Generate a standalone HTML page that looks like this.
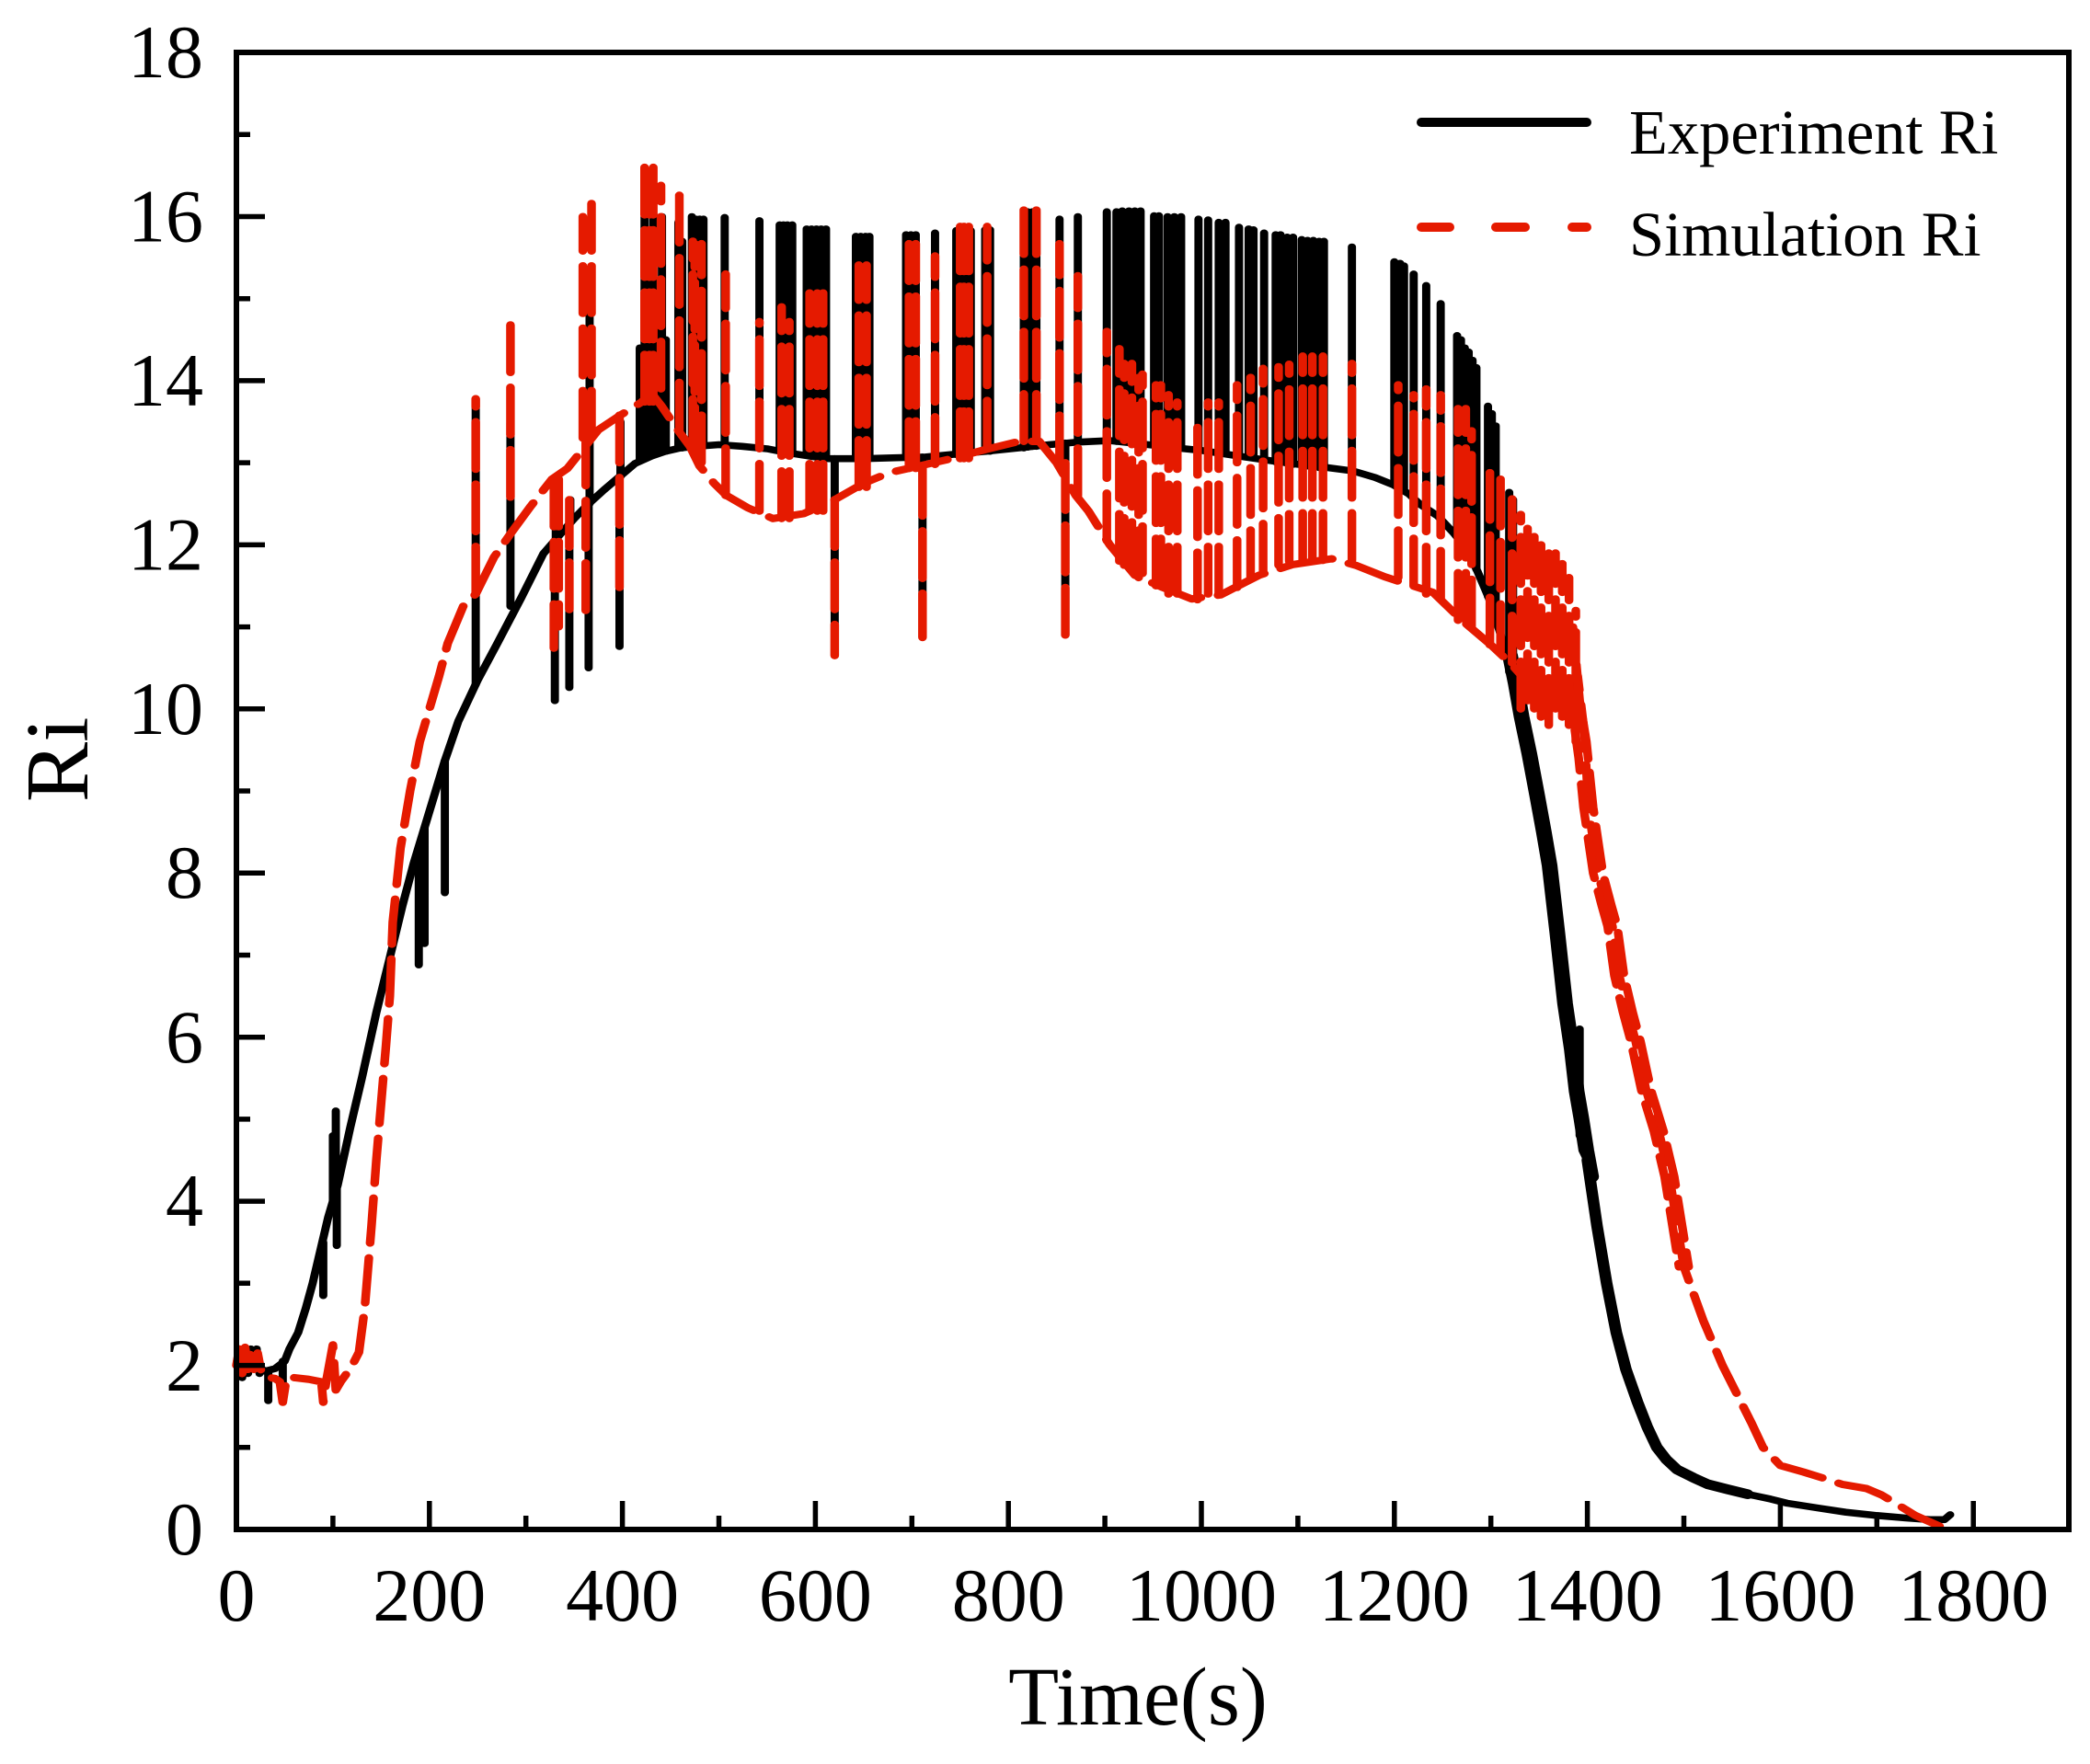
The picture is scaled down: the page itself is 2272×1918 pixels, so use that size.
<!DOCTYPE html>
<html>
<head>
<meta charset="utf-8">
<style>
html,body{margin:0;padding:0;background:#fff;}
svg{display:block;}
text{font-family:"Liberation Serif","Times New Roman",serif;fill:#000;}
</style>
</head>
<body>
<svg width="2272" height="1918" viewBox="0 0 2272 1918" xmlns="http://www.w3.org/2000/svg">
<rect x="0" y="0" width="2272" height="1918" fill="#fff"/>

<!-- DATA (x = time s, y = Ri*100) -->
<g transform="translate(257,1663) scale(1.049,-0.8922)" fill="none" stroke-linecap="round" stroke-linejoin="round">
  <!-- Experiment baseline -->
  <path stroke="#000" stroke-width="8.5" d="M0,200 L3,220 6,185 9,220 12,190 15,220 18,200 21,220 24,190 27,195 30,193 40,196 50,205 55,220 64,240 72,270 79,300 87,340 95,380 105,420 118,490 130,550 145,630 159,697 172,760 184,813 200,875 216,937 230,985 250,1035 270,1079 295,1135 318,1189 335,1212 350,1232 365,1250 381,1267 397,1283 413,1299 430,1308 445,1314 460,1318 477,1320 500,1322 524,1320 550,1317 572,1312 600,1307 613,1305 651,1305 680,1306 714,1307 750,1311 778,1314 810,1318 842,1322 870,1325 905,1327 945,1322 975,1318 1000,1315 1045,1307 1075,1302 1100,1298 1131,1294 1157,1290 1180,1282 1199,1273 1215,1262 1227,1249 1245,1235 1261,1215 1275,1195 1286,1168 1298,1135 1309,1095 1316,1065 1322,1030 1328,990 1336,945 1344,895 1351,850 1357,809 1365,727 1373,641 1380,585 1385,534 1390,500 1395,462 1400,450 1405,410 1410,370 1415,335 1420,300 1430,240 1440,195 1452,155 1462,125 1472,100 1482,85 1493,73 1510,63 1525,55 1545,49 1566,43 1590,37 1607,32 1640,26 1668,21 1700,17 1730,14 1755,12 1770,12 1776,18"/>
  <path stroke="#000" stroke-width="14" d="M1321,1065 L1327,1030 1333,990 1341,945 1349,895 1356,850 1362,809 1370,727 1378,641 1385,585 1390,534 1395,500 1400,462 1405,430"/>
  <path stroke="#000" stroke-width="12" d="M1400,450 L1410,370 1420,300 1430,240 1440,195 1452,155 1462,125 1472,100 1482,85 1493,73 1510,63 1525,55 1545,49 1566,43"/>
  <!-- Experiment spikes -->
  <path stroke="#000" stroke-width="8.5" d="M33,193V157 M48,205V155 M90,350V285 M100,400V480 M103,415V510 M104,415V346 M189,830V688 M195,855V714 M216,937V776 M248,1030V1378 M284,1125V1348 M330,1200V1010 M331,1200V1280 M345,1230V1026 M346,1230V1255 M365,1250V1050 M366,1250V1530 M397,1283V1076 M398,1283V1350 M418,1302V1440 M423,1306V1600 M428,1308V1560 M432,1310V1600 M437,1312V1500 M441,1313V1600 M445,1314V1450 M458,1318V1593 M462,1318V1570 M472,1320V1600 M476,1320V1597 M480,1320V1597 M484,1320V1597 M506,1321V1599 M542,1318V1595 M563,1314V1590 M567,1313V1590 M571,1312V1590 M576,1311V1590 M591,1309V1585 M596,1308V1585 M601,1307V1585 M606,1306V1585 M611,1305V1585 M620,1305V1065 M642,1305V1576 M647,1305V1576 M652,1305V1576 M656,1305V1576 M694,1306V1578 M699,1306V1578 M704,1307V1578 M711,1307V1087 M724,1308V1580 M746,1310V1583 M751,1311V1583 M756,1312V1583 M761,1312V1583 M776,1314V1584 M781,1314V1584 M816,1318V1606 M820,1319V1606 M825,1320V1606 M829,1320V1606 M853,1323V1597 M859,1324V1090 M872,1325V1600 M902,1327V1606 M912,1326V1606 M918,1326V1607 M925,1325V1607 M931,1325V1607 M937,1324V1607 M951,1322V1601 M956,1321V1601 M965,1320V1600 M972,1319V1600 M979,1318V1600 M997,1316V1597 M1007,1315V1596 M1018,1313V1593 M1025,1311V1593 M1039,1309V1587 M1049,1307V1585 M1054,1306V1584 M1065,1304V1580 M1077,1301V1578 M1082,1300V1578 M1089,1299V1575 M1095,1298V1575 M1104,1297V1572 M1110,1296V1571 M1116,1295V1571 M1122,1294V1570 M1127,1294V1570 M1156,1290V1563 M1200,1273V1545 M1206,1270V1543 M1210,1266V1540 M1220,1258V1530 M1233,1246V1516 M1248,1232V1494 M1265,1210V1455 M1269,1203V1450 M1273,1197V1440 M1277,1190V1435 M1281,1182V1425 M1285,1170V1416 M1297,1137V1369 M1301,1125V1360 M1305,1110V1345 M1319,1045V1264 M1323,1025V1255 M1392,480V610"/>

  <!-- Simulation baseline (dashed) -->
  <path stroke="#e51a00" stroke-width="9" stroke-dasharray="55 18" d="M0,200 L3,220 6,190 9,222 12,195 15,220 18,195 22,215 26,190 30,185 35,185 40,184 45,180 48,155 52,185 60,185 75,183 88,180 90,155 93,180 100,225 103,170 108,180 113,188 120,200 127,216 133,270 140,370 145,450 150,520 155,590 159,650 162,740 170,830 180,900 190,960 200,1000 210,1040 219,1080 235,1125 248,1140 267,1185 285,1215 305,1247 327,1280 343,1293 360,1318 375,1340 398,1358 420,1374 430,1385 440,1370 458,1339 470,1320 480,1296 495,1275 508,1260 530,1245 556,1232 588,1238 620,1255 650,1275 677,1288 700,1294 741,1305 776,1316 811,1326 832,1326 850,1300 870,1260 883,1241 905,1200 931,1163 960,1148 990,1134 1020,1139 1060,1163 1095,1176 1135,1183 1160,1175 1190,1161 1240,1142 1270,1108 1300,1078 1320,1056 1340,1030 1360,1010 1380,1005 1390,1040 1397,970 1401,880 1411,800 1420,760 1426,735 1433,675 1442,630 1450,595 1461,535 1474,485 1485,430 1500,320 1520,255 1540,200 1555,165 1570,130 1582,100 1600,78 1624,70 1646,62 1664,55 1689,50 1705,42 1722,30 1740,17 1765,4"/>
  <path stroke="#e51a00" stroke-width="9" stroke-dasharray="50 16" stroke-dashoffset="20" d="M1385,1100 L1392,1010 1399,960 1406,880 1416,800 1425,760 1431,735 1438,675 1447,630 1455,595 1466,535 1479,485 1490,430 1505,320"/>
  <path stroke="#e51a00" stroke-width="9" stroke-dasharray="50 16" stroke-dashoffset="40" d="M1384,1000 L1391,940 1396,880 1406,800 1415,760 1421,735 1428,675 1437,630 1445,595 1456,535 1469,485 1480,430 1495,320"/>
  <!-- Simulation spikes (dashed) -->
  <path stroke="#e51a00" stroke-width="9" stroke-dasharray="58 18" d="M248,1140V1378 M284,1258V1472 M329,1280V1074 M334,1280V1100 M345,1255V1110 M359,1330V1600 M362,1330V1120 M368,1330V1616 M397,1358V1145 M423,1374V1663 M428,1374V1650 M432,1374V1663 M440,1390V1638 M459,1340V1627 M473,1320V1570 M475,1310V1567 M482,1300V1567 M507,1260V1530 M542,1241V1472 M565,1232V1490 M573,1232V1472 M594,1241V1507 M602,1241V1507 M608,1241V1507 M620,1255V1065 M645,1270V1541 M653,1270V1541 M697,1293V1567 M704,1293V1567 M711,1293V1087 M724,1298V1552 M750,1305V1588 M754,1305V1588 M759,1305V1588 M778,1318V1588 M816,1326V1608 M829,1326V1608 M853,1300V1567 M859,1300V1090 M872,1260V1528 M902,1205V1460 M915,1180V1439 M920,1175V1421 M928,1170V1421 M935,1160V1404 M939,1165V1408 M953,1150V1395 M958,1150V1395 M966,1140V1383 M975,1140V1374 M996,1133V1357 M1007,1140V1374 M1018,1140V1374 M1037,1148V1395 M1051,1160V1404 M1064,1168V1415 M1080,1175V1417 M1091,1180V1420 M1105,1181V1430 M1115,1181V1430 M1126,1181V1430 M1156,1181V1421 M1204,1160V1395 M1220,1150V1383 M1233,1140V1390 M1248,1135V1383 M1266,1108V1366 M1274,1108V1366 M1280,1100V1339 M1299,1078V1303 M1310,1070V1280 M1322,1056V1256 M1331,1000V1237 M1338,1010V1230 M1345,1000V1225 M1352,990V1212 M1360,980V1200 M1367,1000V1190 M1374,990V1177 M1381,980V1160 M1388,960V1120"/>
</g>

<!-- Axes frame -->
<rect x="257" y="57" width="1992" height="1606" fill="none" stroke="#000" stroke-width="6"/>

<!-- Ticks -->
<g stroke="#000" stroke-width="5.5" fill="none">
  <path d="M257,1484.6H288 M257,1306.1H288 M257,1127.7H288 M257,949.2H288 M257,770.8H288 M257,592.4H288 M257,413.9H288 M257,235.5H288"/>
  <path d="M257,1573.8H272 M257,1395.3H272 M257,1216.9H272 M257,1038.5H272 M257,860H272 M257,681.6H272 M257,503.1H272 M257,324.7H272 M257,146.3H272"/>
  <path d="M466.8,1663V1632 M676.6,1663V1632 M886.4,1663V1632 M1096.2,1663V1632 M1306,1663V1632 M1515.8,1663V1632 M1725.6,1663V1632 M1935.4,1663V1632 M2145.2,1663V1632"/>
  <path d="M361.9,1663V1648 M571.7,1663V1648 M781.5,1663V1648 M991.3,1663V1648 M1201.1,1663V1648 M1410.9,1663V1648 M1620.7,1663V1648 M1830.5,1663V1648 M2040.3,1663V1648"/>
</g>

<!-- Y tick labels -->
<g font-size="82" text-anchor="end">
  <text x="221" y="84">18</text>
  <text x="221" y="262.5">16</text>
  <text x="221" y="441">14</text>
  <text x="221" y="619.5">12</text>
  <text x="221" y="798">10</text>
  <text x="221" y="976">8</text>
  <text x="221" y="1155">6</text>
  <text x="221" y="1333">4</text>
  <text x="221" y="1512">2</text>
  <text x="221" y="1690">0</text>
</g>

<!-- X tick labels -->
<g font-size="82" text-anchor="middle">
  <text x="257" y="1762">0</text>
  <text x="466.8" y="1762">200</text>
  <text x="676.6" y="1762">400</text>
  <text x="886.4" y="1762">600</text>
  <text x="1096.2" y="1762">800</text>
  <text x="1306" y="1762">1000</text>
  <text x="1515.8" y="1762">1200</text>
  <text x="1725.6" y="1762">1400</text>
  <text x="1935.4" y="1762">1600</text>
  <text x="2145.2" y="1762">1800</text>
</g>

<!-- Axis titles -->
<text x="1237" y="1875" font-size="90" text-anchor="middle">Time(s)</text>
<text transform="translate(95,826) rotate(-90)" font-size="98" text-anchor="middle">Ri</text>

<!-- Legend -->
<line x1="1545" y1="133" x2="1725" y2="133" stroke="#000" stroke-width="10" stroke-linecap="round"/>
<g stroke="#e51a00" stroke-width="10" stroke-linecap="round">
  <line x1="1545" y1="247" x2="1576" y2="247"/>
  <line x1="1626" y1="247" x2="1658" y2="247"/>
  <line x1="1709" y1="247" x2="1725" y2="247"/>
</g>
<text x="1771" y="167" font-size="68.5">Experiment Ri</text>
<text x="1771" y="278" font-size="68.5">Simulation Ri</text>
</svg>
</body>
</html>
